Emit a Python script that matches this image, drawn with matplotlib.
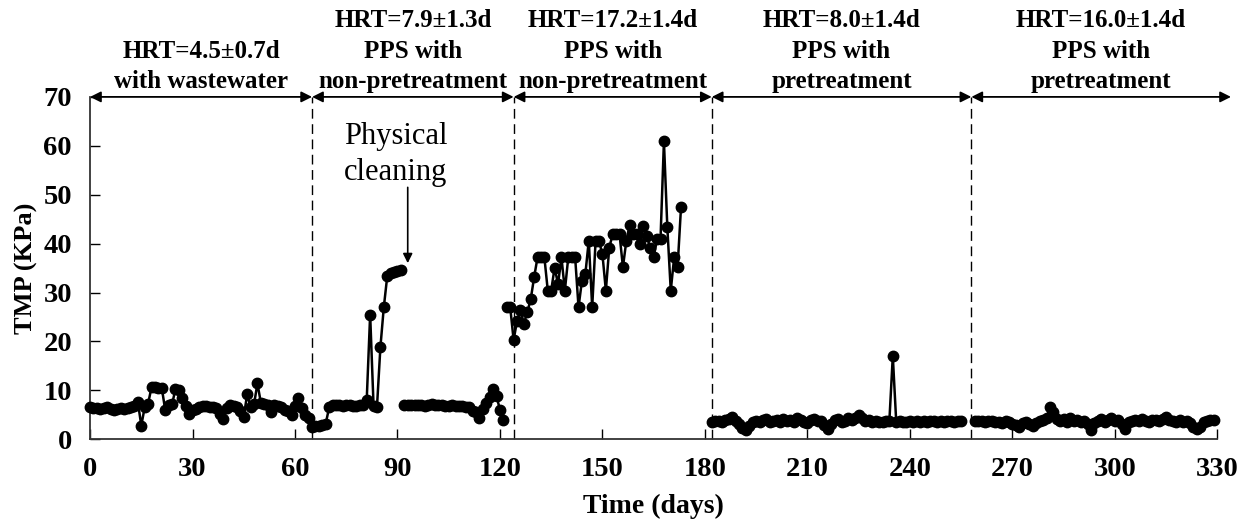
import numpy as np
import matplotlib
matplotlib.use("Agg")
import matplotlib.pyplot as plt

plt.rcParams['font.family'] = ['Liberation Serif', 'DejaVu Serif']

# stage 1: HRT 4.5 d, with wastewater
days1 = [0, 1, 2, 3, 4, 5, 6, 7, 8, 9, 10, 11, 12, 13, 14, 15, 16, 17, 18, 19,
         20, 21, 22, 23, 24, 25, 26, 27, 28, 29, 30, 31, 32, 33, 34, 35, 36, 37,
         38, 39, 40, 41, 42, 43, 44, 45, 46, 47, 48, 49, 50, 51, 52, 53, 54, 55,
         56, 57, 58, 59, 60, 61, 62, 63, 64]
tmp1 = [6.5, 6.3, 6.4, 6.2, 6.3, 6.5, 6.2, 6.0, 6.1, 6.3, 6.2, 6.4, 6.6, 6.8,
        7.6, 2.8, 6.5, 7.3, 10.6, 10.7, 10.5, 10.5, 6.0, 7.0, 7.1, 10.2, 10.0,
        8.4, 6.8, 5.2, 6.0, 6.2, 6.6, 6.8, 6.7, 6.6, 6.5, 6.3, 5.2, 4.2, 6.4,
        7.0, 6.8, 6.6, 5.7, 4.6, 9.2, 6.5, 7.1, 11.4, 7.5, 7.3, 7.0, 5.6, 7.0,
        6.8, 6.6, 6.0, 5.8, 4.9, 6.8, 8.5, 6.3, 5.0, 4.4]

# stage 2: PPS, non-pretreatment, before physical cleaning
days2a = [65, 66, 67, 68, 69, 70, 71, 72, 73, 74, 75, 76, 77, 78, 79, 80, 81,
          82, 83, 84, 85, 86, 87, 88, 89, 90, 91]
tmp2a = [2.4, 2.6, 2.8, 3.0, 3.2, 6.5, 6.9, 7.0, 6.9, 6.8, 6.9, 7.0, 6.8, 6.8,
         6.9, 7.0, 8.1, 25.5, 6.8, 6.6, 18.8, 27.0, 33.3, 33.9, 34.2, 34.4, 34.5]

# stage 2: after physical cleaning
days2b = [92, 93, 94, 95, 96, 97, 98, 99, 100, 101, 102, 103, 104, 105, 106,
          107, 108, 109, 110, 111, 112, 113, 114, 115, 116, 117, 118, 119, 120,
          121]
tmp2b = [7.0, 7.0, 6.9, 6.9, 7.0, 6.9, 6.8, 6.9, 7.1, 7.0, 7.0, 6.9, 6.8, 6.8,
         6.9, 6.8, 6.8, 6.7, 6.6, 6.5, 5.7, 5.6, 4.4, 6.2, 7.5, 8.6, 10.2, 8.8,
         6.0, 4.0]

# stage 3: HRT 17.2 d, non-pretreatment
days3 = [122, 123, 124, 125, 126, 127, 128, 129, 130, 131, 132, 133, 134, 135,
         136, 137, 138, 139, 140, 141, 142, 143, 144, 145, 146, 147, 148, 149,
         150, 151, 152, 153, 154, 155, 156, 157, 158, 159, 160, 161, 162, 163,
         164, 165, 166, 167, 168, 169, 170, 171, 172, 173]
tmp3 = [27.0, 27.0, 20.3, 24.2, 26.5, 23.6, 26.0, 28.6, 33.1, 37.2, 37.3, 37.2,
        30.4, 30.4, 35.1, 31.7, 37.2, 30.4, 37.2, 37.2, 37.3, 27.0, 32.4, 33.8,
        40.6, 27.0, 40.6, 40.5, 37.8, 30.4, 39.2, 41.9, 42.0, 41.9, 35.2, 40.6,
        43.9, 41.9, 42.0, 39.9, 43.7, 41.6, 39.0, 37.3, 40.9, 40.9, 60.9, 43.3,
        30.4, 37.2, 35.2, 47.4]

# stage 4: HRT 8.0 d, pretreatment
days4 = [182, 183, 184, 185, 186, 187, 188, 189, 190, 191, 192, 193, 194, 195,
         196, 197, 198, 199, 200, 201, 202, 203, 204, 205, 206, 207, 208, 209,
         210, 211, 212, 213, 214, 215, 216, 217, 218, 219, 220, 221, 222, 223,
         224, 225, 226, 227, 228, 229, 230, 231, 232, 233, 234, 235, 236, 237,
         238, 239, 240, 241, 242, 243, 244, 245, 246, 247, 248, 249, 250, 251,
         252, 253, 254, 255]
tmp4 = [3.6, 3.7, 3.8, 3.6, 3.9, 4.2, 4.5, 3.8, 3.2, 2.2, 1.8, 2.6, 3.5, 3.8,
        3.6, 3.9, 4.1, 3.6, 3.8, 4.0, 3.5, 4.2, 3.7, 3.9, 3.5, 4.3, 4.0, 3.6,
        3.3, 3.9, 4.2, 3.8, 3.7, 3.0, 2.0, 3.2, 3.9, 4.2, 3.6, 3.8, 4.3, 3.9,
        4.4, 4.9, 4.3, 3.7, 3.9, 3.6, 3.7, 3.6, 3.6, 3.7, 3.8, 17.0, 3.6, 3.7,
        3.5, 3.6, 3.8, 3.6, 3.7, 3.5, 3.7, 3.6, 3.8, 3.7, 3.6, 3.7, 3.6, 3.8,
        3.7, 3.6, 3.7, 3.7]

# stage 5: HRT 16.0 d, pretreatment
days5 = [259, 260, 261, 262, 263, 264, 265, 266, 267, 268, 269, 270, 271, 272,
         273, 274, 275, 276, 277, 278, 279, 280, 281, 282, 283, 284, 285, 286,
         287, 288, 289, 290, 291, 292, 293, 294, 295, 296, 297, 298, 299, 300,
         301, 302, 303, 304, 305, 306, 307, 308, 309, 310, 311, 312, 313, 314,
         315, 316, 317, 318, 319, 320, 321, 322, 323, 324, 325, 326, 327, 328,
         329]
tmp5 = [3.8, 3.7, 3.8, 3.6, 3.8, 3.7, 3.5, 3.6, 3.4, 3.8, 3.5, 3.2, 3.0, 2.5,
        3.3, 3.6, 3.2, 2.6, 3.4, 3.8, 3.9, 4.4, 6.5, 5.5, 4.2, 3.8, 4.1, 3.6,
        4.3, 3.7, 4.0, 3.5, 3.8, 3.2, 1.9, 3.4, 3.8, 4.2, 3.6, 4.0, 4.3, 3.7,
        3.9, 3.1, 2.0, 3.5, 3.8, 4.0, 3.7, 4.1, 3.8, 3.6, 3.9, 4.0, 3.8, 4.2,
        4.5, 3.9, 3.8, 3.6, 3.9, 3.5, 3.7, 3.3, 2.5, 2.0, 2.4, 3.5, 3.8, 3.9,
        3.9]

# stage boundaries (days) and headers
bounds = [0, 65, 124, 182, 258, 334]
headers = ['HRT=4.5±0.7d\nwith wastewater',
           'HRT=7.9±1.3d\nPPS with\nnon-pretreatment',
           'HRT=17.2±1.4d\nPPS with\nnon-pretreatment',
           'HRT=8.0±1.4d\nPPS with\npretreatment',
           'HRT=16.0±1.4d\nPPS with\npretreatment']

fig = plt.figure(figsize=(12.47, 5.21), dpi=100)
ax = fig.add_axes([0.0722, 0.157, 0.904, 0.657])

runs = [(days1 + days2a, tmp1 + tmp2a), (days2b, tmp2b), (days3, tmp3),
        (days4, tmp4), (days5, tmp5)]
for d, v in runs:
    ax.plot(d, v, color='black', lw=1.8, marker='o', ms=7.5, mfc='black',
            mec='black', clip_on=False, zorder=3)

ax.set_xlim(0, 330)
ax.set_ylim(0, 70)
ax.set_xticks(np.arange(0, 331, 30))
ax.set_yticks(np.arange(0, 71, 10))
ax.tick_params(direction='in', length=7, width=1, labelsize=20.5, pad=13)
for lab in ax.get_xticklabels() + ax.get_yticklabels():
    lab.set_fontweight('bold')

for side in ['top', 'right']:
    ax.spines[side].set_visible(False)
for side in ['left', 'bottom']:
    ax.spines[side].set_linewidth(1.3)
    ax.spines[side].set_color('#333333')

# dashed stage separators
for b in bounds[1:-1]:
    ax.plot([b, b], [0, 70], color='black', lw=1, ls=(0, (7, 4)), zorder=2,
            clip_on=False)

# double arrows and stage headers
for i in range(len(headers)):
    x0, x1 = bounds[i], bounds[i + 1]
    ax.annotate('', xy=(x1, 70), xytext=(x0, 70),
                arrowprops=dict(arrowstyle='<|-|>', color='black', lw=1.3,
                                mutation_scale=16, shrinkA=0, shrinkB=0),
                annotation_clip=False)
    ax.text((x0 + x1) / 2, 70.7, headers[i], ha='center', va='bottom',
            fontsize=18, fontweight='bold', linespacing=1.42)

# physical cleaning note
ax.annotate('', xy=(93, 36), xytext=(93, 51.5),
            arrowprops=dict(arrowstyle='-|>', color='black', lw=1.2,
                            mutation_scale=14, shrinkA=0, shrinkB=0))
ax.text(89.5, 51.6, 'Physical\ncleaning', ha='center', va='bottom', fontsize=22,
        linespacing=1.3)

ax.set_xlabel('Time (days)', fontsize=20, fontweight='bold', labelpad=8)
ax.set_ylabel('TMP (KPa)', fontsize=19, fontweight='bold', labelpad=4)

fig.savefig('out.png', dpi=100)
